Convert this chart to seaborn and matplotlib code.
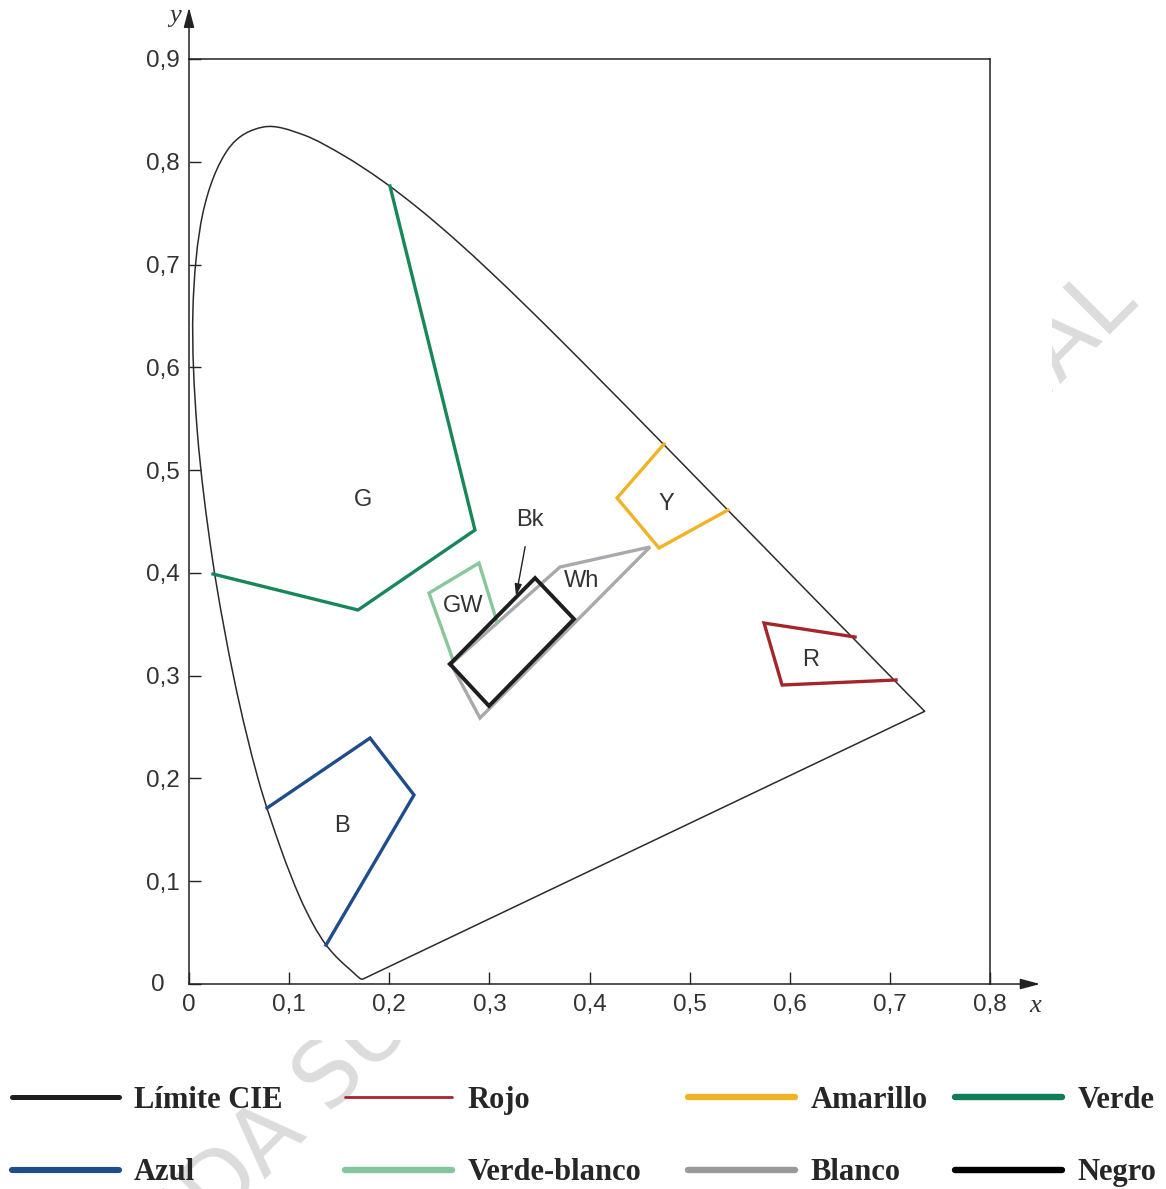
import numpy as np
import pandas as pd
import matplotlib
matplotlib.use("Agg")
import matplotlib.pyplot as plt
import seaborn as sns
from matplotlib.lines import Line2D
from matplotlib.patches import Rectangle, PathPatch
from matplotlib.path import Path

# CIE 1931 spectral locus (380-700 nm)
locus_x = [0.1741, 0.1740, 0.1738, 0.1736, 0.1733, 0.1730, 0.1726, 0.1721, 0.1714,
           0.1703, 0.1689, 0.1669, 0.1644, 0.1611, 0.1566, 0.1510, 0.1440, 0.1355,
           0.1241, 0.1096, 0.0913, 0.0687, 0.0454, 0.0235, 0.0082, 0.0039, 0.0139,
           0.0389, 0.0743, 0.1142, 0.1547, 0.1929, 0.2296, 0.2658, 0.3016, 0.3373,
           0.3731, 0.4087, 0.4441, 0.4788, 0.5125, 0.5448, 0.5752, 0.6029, 0.6270,
           0.6482, 0.6658, 0.6801, 0.6915, 0.7006, 0.7079, 0.7140, 0.7190, 0.7230,
           0.7260, 0.7283, 0.7300, 0.7311, 0.7320, 0.7334, 0.7344, 0.7347]
locus_y = [0.0050, 0.0050, 0.0049, 0.0049, 0.0048, 0.0048, 0.0048, 0.0048, 0.0051,
           0.0058, 0.0069, 0.0086, 0.0109, 0.0138, 0.0177, 0.0227, 0.0297, 0.0399,
           0.0578, 0.0868, 0.1327, 0.2007, 0.2950, 0.4127, 0.5384, 0.6548, 0.7502,
           0.8120, 0.8338, 0.8262, 0.8059, 0.7816, 0.7543, 0.7243, 0.6923, 0.6589,
           0.6245, 0.5896, 0.5547, 0.5202, 0.4866, 0.4544, 0.4242, 0.3965, 0.3725,
           0.3514, 0.3340, 0.3197, 0.3083, 0.2993, 0.2920, 0.2859, 0.2809, 0.2770,
           0.2740, 0.2717, 0.2700, 0.2689, 0.2680, 0.2666, 0.2656, 0.2653]

# Colour regions (x, y chromaticity)
green_x = [0.2007, 0.2856, 0.1688, 0.0240]
green_y = [0.7764, 0.4417, 0.3639, 0.3989]
blue_x = [0.0779, 0.1808, 0.2247, 0.1368]
blue_y = [0.1712, 0.2393, 0.1839, 0.0379]
yellow_x = [0.4744, 0.4275, 0.4694, 0.5383]
yellow_y = [0.5254, 0.4729, 0.4242, 0.4612]
red_x = [0.6652, 0.5743, 0.5923, 0.7061]
red_y = [0.3376, 0.3512, 0.2909, 0.2958]
gw_x = [0.2637, 0.2397, 0.2896, 0.3076]
gw_y = [0.3152, 0.3804, 0.4096, 0.3522]
white_x = [0.2617, 0.3705, 0.4604, 0.2906]
white_y = [0.3113, 0.4057, 0.4252, 0.2588]
black_x = [0.2607, 0.3456, 0.3845, 0.2996]
black_y = [0.3113, 0.3950, 0.3551, 0.2705]

# Region labels
region_names = ["G", "B", "Y", "R", "GW", "Wh"]
region_lx = [0.174, 0.153, 0.477, 0.621, 0.274, 0.3925]
region_ly = [0.471, 0.154, 0.467, 0.315, 0.368, 0.392]
bk_point = (0.3266, 0.3775)
bk_text = (0.3406, 0.4514)

x_ticks = [0, 0.1, 0.2, 0.3, 0.4, 0.5, 0.6, 0.7, 0.8]
y_ticks = [0, 0.1, 0.2, 0.3, 0.4, 0.5, 0.6, 0.7, 0.8, 0.9]

legend_labels = [["Límite CIE", "Azul"], ["Rojo", "Verde-blanco"],
                 ["Amarillo", "Blanco"], ["Verde", "Negro"]]

C_LOCUS = "#2b2b2b"
C_GREEN = "#17875a"
C_BLUE = "#1f4c8c"
C_YELLOW = "#f0b325"
C_RED = "#a3272a"
C_GW = "#88c79c"
C_WH = "#a8a9ac"
C_BK = "#1e1e1e"

sns.set_theme(style="white")
plt.rcParams["font.family"] = ["Liberation Sans", "DejaVu Sans"]

fig = plt.figure(figsize=(11.66, 11.89), dpi=100)
fig.patch.set_facecolor("white")

# faint watermark behind the chart area
fig.text(0.9777, 0.7435, "PROHIBIDA SU DIFUSIÓN COMERCIAL", rotation=45,
         rotation_mode="anchor", ha="right", va="baseline", fontsize=65,
         color="#dcdcdc", family="DejaVu Sans", zorder=-2)
fig.patches.append(Rectangle((0, 0.1253), 0.9022, 0.8747, transform=fig.transFigure,
                             facecolor="white", edgecolor="none", zorder=-1))

ax = fig.add_axes([0.1621, 0.1724, 0.6870, 0.7780])
ax.set_facecolor("none")


def locus_path(xs, ys):
    """Smooth spectral locus (Catmull-Rom as cubic Bezier) closed by the purple line."""
    p = np.column_stack([xs, ys])
    n = len(p)
    verts = [p[0]]
    codes = [Path.MOVETO]
    for i in range(n - 1):
        p0 = p[max(i - 1, 0)]
        p1, p2 = p[i], p[i + 1]
        p3 = p[min(i + 2, n - 1)]
        verts += [p1 + (p2 - p0) / 6.0, p2 - (p3 - p1) / 6.0, p2]
        codes += [Path.CURVE4] * 3
    verts += [p[0], p[0]]
    codes += [Path.LINETO, Path.CLOSEPOLY]
    return Path(verts, codes)


ax.add_patch(PathPatch(locus_path(locus_x, locus_y), facecolor="none",
                       edgecolor=C_LOCUS, lw=1.1, joinstyle="round"))


def closed(v):
    return list(v) + [v[0]]


def draw(xs, ys, color, lw, close=False):
    if close:
        xs, ys = closed(xs), closed(ys)
    sns.lineplot(x=xs, y=ys, sort=False, estimator=None, color=color, lw=lw,
                 ax=ax, solid_joinstyle="miter", solid_capstyle="projecting")


draw(green_x, green_y, C_GREEN, 2.4)
draw(blue_x, blue_y, C_BLUE, 2.4)
draw(yellow_x, yellow_y, C_YELLOW, 2.4)
draw(red_x, red_y, C_RED, 2.4)
draw(white_x, white_y, C_WH, 2.4, close=True)
draw(gw_x, gw_y, C_GW, 2.4)
draw(black_x, black_y, C_BK, 2.8, close=True)

for name, lx, ly in zip(region_names, region_lx, region_ly):
    ax.text(lx, ly, name, ha="center", va="center", fontsize=17, color="#333333")
ax.annotate("Bk", xy=bk_point, xytext=bk_text, ha="center", va="center",
            fontsize=17, color="#333333",
            arrowprops=dict(arrowstyle="-|>,head_length=0.5,head_width=0.15",
                            color="#222222", lw=1, mutation_scale=14,
                            shrinkA=9, shrinkB=0))

ax.set_xlim(0, 0.8)
ax.set_ylim(0, 0.9)
ax.set_xticks(x_ticks)
ax.set_yticks(y_ticks)
fmt = lambda v: "0" if v == 0 else f"{v:.1f}".replace(".", ",")
ax.set_xticklabels([fmt(v) for v in x_ticks])
# the y-axis zero is written separately, a little further left
ax.set_yticklabels(["" if v == 0 else fmt(v) for v in y_ticks])
ax.tick_params(axis="both", direction="in", length=8.6, width=1, color="#222222",
               labelsize=17.5, labelcolor="#333333", pad=7,
               bottom=True, left=True, top=False, right=False)
ax.text(-0.0315, -0.001, "0", ha="center", va="center", fontsize=17.5,
        color="#333333", clip_on=False)
for s in ax.spines.values():
    s.set_visible(True)
    s.set_color("#222222")
    s.set_linewidth(1.1)

arrow_kw = dict(arrowstyle="-|>,head_length=0.6,head_width=0.16", color="#222222",
                lw=1.1, mutation_scale=20, shrinkA=0, shrinkB=0)
ax.annotate("", xy=(0.85, 0), xytext=(0.8, 0), arrowprops=arrow_kw,
            annotation_clip=False)
ax.annotate("", xy=(0, 0.95), xytext=(0, 0.9), arrowprops=arrow_kw,
            annotation_clip=False)
ax.text(-0.014, 0.942, "y", ha="center", va="center", fontsize=19,
        family="Liberation Serif", style="italic", color="#333333", clip_on=False)
ax.text(0.845, -0.0215, "x", ha="center", va="center", fontsize=19,
        family="Liberation Serif", style="italic", color="#333333", clip_on=False)
ax.set_xlabel("")
ax.set_ylabel("")

# legend in four independent columns
legend_styles = [[(C_BK, 3.6), (C_BLUE, 4.4)],
                 [(C_RED, 2.0), ("#87c59c", 4.6)],
                 [(C_YELLOW, 4.6), ("#9a9a9a", 4.6)],
                 [("#0f7d55", 4.6), ("#000000", 4.6)]]
legend_x = [0.0103, 0.2959, 0.5901, 0.8190]
for labels, styles, lx in zip(legend_labels, legend_styles, legend_x):
    handles = [Line2D([0], [0], color=c, lw=w, solid_capstyle="round")
               for c, w in styles]
    fig.legend(handles, labels, loc="center left", bbox_to_anchor=(lx, 0.0442),
               frameon=False, handlelength=3.5, handletextpad=0.5,
               labelspacing=1.43, borderpad=0, borderaxespad=0,
               prop=dict(family="Liberation Serif", weight="bold", size=22))

fig.savefig("out.png", dpi=100, facecolor="white")
